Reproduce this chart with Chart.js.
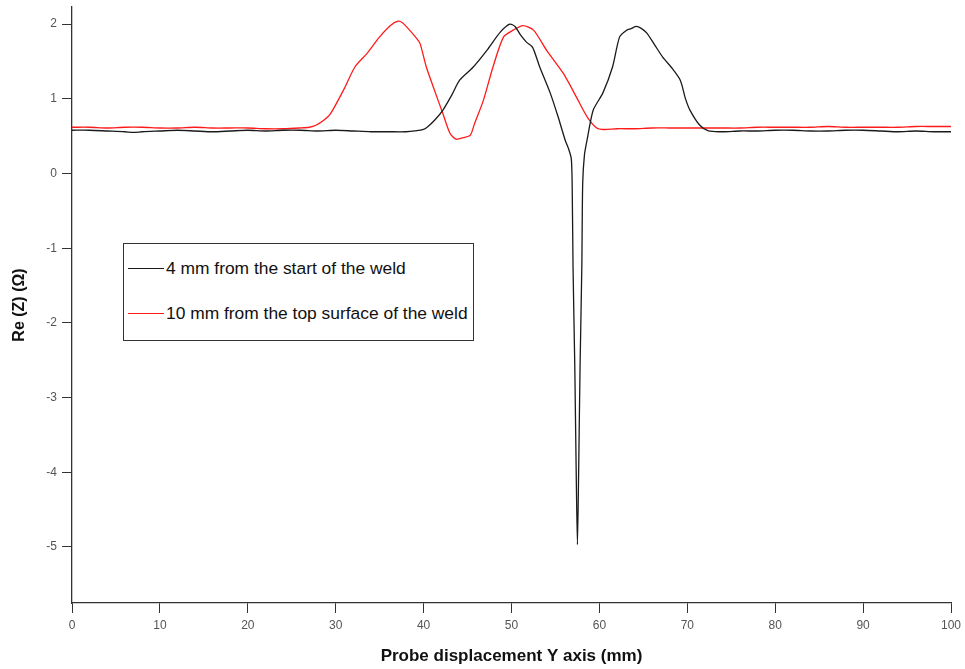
<!DOCTYPE html>
<html>
<head>
<meta charset="utf-8">
<script src="https://cdn.jsdelivr.net/npm/chart.js@4"></script>
<style>
  body { margin: 0; background: #fff; }
  #wrap { position: relative; width: 965px; height: 669px; }
  #legend {
    position: absolute; left: 123px; top: 243px; width: 349px; height: 96px;
    border: 1px solid #333; background: #fff; box-sizing: content-box;
    font-family: "Liberation Sans", Arial, sans-serif; font-size: 17.4px; color: #111;
  }
  .leg-row { position: absolute; left: 4px; display: flex; align-items: center; white-space: nowrap; }
  .leg-line { width: 36px; height: 0; border-top: 1.5px solid; margin-right: 2px; }
</style>
</head>
<body>
<div id="wrap">
  <canvas id="chart" width="965" height="669"></canvas>
  <div id="legend"></div>
</div>
<script>
// 4 mm from the start of the weld
const blackX = [0, 2, 4, 6, 7, 8, 10, 12, 14, 16, 18, 20, 22, 24, 26, 28, 30, 32, 34, 36, 38, 39, 40, 40.5, 41.3, 42.2, 43.2, 44.1, 45.6, 47.2, 48.7, 49.8, 50.4, 51.0, 51.7, 52.4, 53.2, 54.4, 55.3, 56.1, 56.5, 56.8, 56.9, 57.0, 57.2, 57.35, 57.5, 57.65, 57.8, 58.0, 58.1, 58.3, 58.6, 59.3, 60.4, 61.5, 62.3, 63.1, 63.6, 64.2, 64.8, 65.4, 66.3, 67.2, 68.2, 69.2, 69.8, 70.3, 71.4, 72.4, 74, 76, 78, 80, 82, 84, 86, 88, 90, 92, 94, 96, 98, 100];
const blackY = [0.58, 0.58, 0.57, 0.56, 0.55, 0.56, 0.57, 0.58, 0.57, 0.56, 0.57, 0.58, 0.57, 0.58, 0.58, 0.57, 0.58, 0.57, 0.56, 0.56, 0.56, 0.57, 0.59, 0.63, 0.72, 0.85, 1.05, 1.25, 1.42, 1.65, 1.89, 2.0, 1.97, 1.86, 1.76, 1.69, 1.43, 1.08, 0.76, 0.45, 0.33, 0.2, -0.13, -1.25, -2.58, -3.9, -4.97, -3.9, -2.58, -1.25, -0.13, 0.25, 0.45, 0.85, 1.08, 1.43, 1.83, 1.92, 1.94, 1.97, 1.94, 1.88, 1.72, 1.56, 1.42, 1.25, 1.0, 0.85, 0.65, 0.57, 0.56, 0.57, 0.57, 0.58, 0.58, 0.57, 0.57, 0.58, 0.58, 0.57, 0.56, 0.57, 0.56, 0.56];

// 10 mm from the top surface of the weld
const redX = [0, 2, 4, 6, 8, 10, 12, 14, 16, 18, 20, 22, 24, 25.9, 27.0, 27.8, 28.6, 29.4, 30.9, 32.2, 33.5, 35.0, 36.2, 37.1, 37.6, 38.1, 39.2, 39.6, 40.3, 41.1, 42.2, 43.0, 43.7, 44.5, 45.3, 45.8, 46.8, 47.9, 49.1, 50.2, 51.3, 52.5, 54.0, 55.9, 57.4, 58.6, 59.7, 60.5, 62, 64, 66, 68, 70, 72, 74, 76, 78, 80, 82, 84, 86, 88, 90, 92, 94, 96, 98, 100];
const redY = [0.62, 0.62, 0.61, 0.62, 0.62, 0.61, 0.61, 0.62, 0.61, 0.61, 0.61, 0.6, 0.6, 0.61, 0.62, 0.65, 0.71, 0.8, 1.12, 1.43, 1.6, 1.83, 1.98, 2.04, 2.02, 1.96, 1.81, 1.74, 1.43, 1.16, 0.8, 0.54, 0.46, 0.48, 0.51, 0.67, 0.98, 1.43, 1.83, 1.92, 1.98, 1.92, 1.65, 1.34, 1.02, 0.76, 0.61, 0.59, 0.6, 0.6, 0.61, 0.61, 0.61, 0.61, 0.61, 0.61, 0.62, 0.62, 0.62, 0.62, 0.63, 0.62, 0.62, 0.62, 0.62, 0.63, 0.63, 0.63];

const seriesLabels = ['4 mm from the start of the weld', '10 mm from the top surface of the weld'];
const seriesColors = ['#1a1a1a', '#ff1a1a'];

const xTicks = [0, 10, 20, 30, 40, 50, 60, 70, 80, 90, 100];
const yTicks = [-5, -4, -3, -2, -1, 0, 1, 2];

const toPoints = (xs, ys) => xs.map((x, i) => ({ x: x, y: ys[i] }));

const font = '"Liberation Sans", Arial, sans-serif';

new Chart(document.getElementById('chart'), {
  type: 'line',
  data: {
    datasets: [
      { label: seriesLabels[0], data: toPoints(blackX, blackY), borderColor: seriesColors[0], borderWidth: 1.3, pointRadius: 0, tension: 0.25 },
      { label: seriesLabels[1], data: toPoints(redX, redY), borderColor: seriesColors[1], borderWidth: 1.3, pointRadius: 0, tension: 0.25 }
    ]
  },
  options: {
    responsive: false,
    animation: false,
    layout: { padding: { top: 7, right: 14, left: 0, bottom: 0 } },
    plugins: { legend: { display: false }, tooltip: { enabled: false } },
    scales: {
      x: {
        type: 'linear', min: 0, max: 100,
        afterBuildTicks: s => { s.ticks = xTicks.map(v => ({ value: v })); },
        afterFit: s => { s.height = 66; s.paddingLeft = 0; s.paddingRight = 0; },
        grid: { drawOnChartArea: false, tickLength: 10, color: '#333' },
        border: { color: '#333', width: 1.3 },
        ticks: { color: '#555', font: { family: font, size: 12 }, padding: 5, maxRotation: 0 },
        title: { display: true, text: 'Probe displacement Y axis (mm)', color: '#111', font: { family: font, size: 17, weight: 'bold' }, padding: { top: 0, bottom: 2 } }
      },
      y: {
        type: 'linear', min: -5.75, max: 2.23,
        afterBuildTicks: s => { s.ticks = yTicks.map(v => ({ value: v })); },
        afterFit: s => { s.width = 72; s.paddingTop = 0; s.paddingBottom = 0; },
        grid: { drawOnChartArea: false, tickLength: 10, color: '#333' },
        border: { color: '#333', width: 1.3 },
        ticks: { color: '#555', font: { family: font, size: 12 }, padding: 5 },
        title: { display: true, text: 'Re (Z) (Ω)', color: '#111', font: { family: font, size: 16, weight: 'bold' }, padding: { top: 10, bottom: 0 } }
      }
    }
  }
});

// legend box drawn over the plot
const legend = document.getElementById('legend');
legend.innerHTML = seriesLabels.map((lab, i) => `
  <div class="leg-row" style="top:${i === 0 ? 14 : 59}px">
    <span class="leg-line" style="border-color:${seriesColors[i]}"></span><span>${lab}</span>
  </div>`).join('');
</script>
</body>
</html>
